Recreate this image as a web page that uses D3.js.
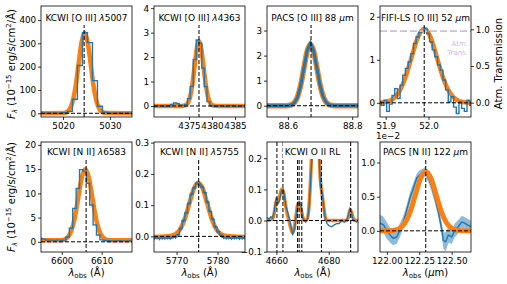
<!DOCTYPE html>
<html>
<head>
<meta charset="utf-8">
<script src="https://cdn.jsdelivr.net/npm/d3@7"></script>
<style>
  body { margin: 0; background: #fff; }
  svg text { font-family: "DejaVu Sans", sans-serif; fill: #000; }
</style>
</head>
<body>
<svg id="chart" width="507" height="284"></svg>
<script>
// ---- KCWI [O III] 5007 ----
const oiii5007Wave = [5015.07, 5016.13, 5017.2, 5018.27, 5019.33, 5020.4, 5021.47, 5022.53, 5023.6, 5024.67, 5025.73, 5026.8, 5027.87, 5028.93, 5030.0, 5031.07, 5032.13, 5033.2, 5034.27, 5035.33];
const oiii5007Flux = [0, 0, 0, 0, 0, 2, 8, 60, 205, 345, 303, 140, 30, 5, 0, 0, 0, 0, 0, 0];
const oiii5007FitWave = [5015.3, 5020.05, 5020.7, 5021.35, 5022.0, 5022.65, 5023.3, 5023.95, 5024.6, 5025.25, 5025.9, 5026.55, 5027.2, 5027.85, 5028.5, 5029.15, 5034.7];
const oiii5007Fit = [0, 0.7, 3.8, 15, 46.7, 112, 209, 304.5, 345, 304.5, 209, 112, 46.7, 15, 3.8, 0.7, 0];

// ---- KCWI [O III] 4363 ----
const oiii4363Wave = [4367.04, 4367.65, 4368.26, 4368.88, 4369.49, 4370.1, 4370.71, 4371.32, 4371.94, 4372.55, 4373.16, 4373.77, 4374.38, 4374.96, 4375.58, 4376.25, 4376.87, 4377.49, 4378.06, 4378.6, 4379.22, 4379.84, 4380.46, 4381.08, 4381.7, 4382.32, 4382.94, 4383.56, 4384.18, 4384.8, 4385.42, 4386.04, 4386.66, 4387.28, 4387.9];
const oiii4363Flux = [0, -0.01, 0, 0.01, 0, -0.01, 0, 0.06, 0.12, 0.1, 0.03, 0.02, 0.05, 0.3, 0.8, 1.9, 2.7, 2.57, 1.55, 0.8, 0.18, 0.02, 0, -0.01, 0.01, 0, -0.01, 0, 0.01, 0, -0.01, 0, 0.01, 0, 0];
const oiii4363FitWave = [4367.39, 4373.26, 4373.75, 4374.24, 4374.73, 4375.22, 4375.71, 4376.2, 4376.69, 4377.18, 4377.67, 4378.16, 4378.65, 4379.14, 4379.63, 4380.12, 4380.61, 4381.1, 4387.17];
const oiii4363Fit = [0, 0.002, 0.006, 0.03, 0.116, 0.36, 0.86, 1.61, 2.34, 2.65, 2.34, 1.61, 0.86, 0.36, 0.116, 0.03, 0.006, 0.002, 0];

// ---- PACS [O III] 88 um ----
const oiii88Wave = [88.535, 88.59, 88.60, 88.61, 88.62, 88.63, 88.64, 88.65, 88.66, 88.67, 88.68, 88.69, 88.70, 88.71, 88.72, 88.73, 88.74, 88.75, 88.818];
const oiii88Flux = [0, 0, 0.006, 0.03, 0.11, 0.34, 0.81, 1.52, 2.2, 2.5, 2.2, 1.52, 0.81, 0.34, 0.11, 0.03, 0.006, 0, 0];
const oiii88Fit = [0, 0, 0.008, 0.035, 0.12, 0.36, 0.83, 1.52, 2.17, 2.45, 2.17, 1.52, 0.83, 0.36, 0.12, 0.035, 0.008, 0, 0];

// ---- FIFI-LS [O III] 52 um ----
const oiii52Wave = [51.8866, 51.8929, 51.8991, 51.9054, 51.9116, 51.9179, 51.9242, 51.9304, 51.9367, 51.9429, 51.9492, 51.9555, 51.9617, 51.9680, 51.9742, 51.9805, 51.9868, 51.9930, 51.9993, 52.0055, 52.0118, 52.0181, 52.0243, 52.0306, 52.0368, 52.0431, 52.0494, 52.0556, 52.0619, 52.0681, 52.0744, 52.0807, 52.0869, 52.0932, 52.0994];
const oiii52Flux = [0.02, -0.06, 0.06, -0.2, -0.03, 0.17, 0.33, 0.1, 0.41, 0.64, 0.8, 0.95, 1.14, 1.38, 1.53, 1.63, 1.67, 1.73, 1.61, 1.42, 1.23, 1.07, 0.88, 0.76, 0.53, 0.3, 0.02, 0.14, -0.1, -0.25, 0.02, -0.13, -0.2, 0.06, -0.06];
const oiii52FitWave = [51.8866, 51.90, 51.915, 51.93, 51.945, 51.96, 51.975, 51.99, 52.005, 52.02, 52.035, 52.05, 52.065, 52.08, 52.0994];
const oiii52Fit = [0.002, 0.019, 0.075, 0.233, 0.558, 1.043, 1.518, 1.72, 1.518, 1.043, 0.558, 0.233, 0.075, 0.019, 0.002];
const atmWave = [51.8866, 52.0994];
const atmTrans = [0.975, 0.975];

// ---- KCWI [N II] 6583 ----
const nii6583Wave = [6594.68, 6595.53, 6596.38, 6597.23, 6598.08, 6598.93, 6599.78, 6600.63, 6601.48, 6602.33, 6603.18, 6604.03, 6604.88, 6605.73, 6606.58, 6607.43, 6608.28, 6609.13, 6609.98, 6610.83, 6611.68, 6612.53, 6613.38, 6614.23, 6615.08, 6615.93, 6616.78, 6617.63, 6618.48];
const nii6583Flux = [0.7, 0.55, 0.35, 0.35, 0.3, 0.35, 0.3, 0.35, 1.0, 2.8, 6.9, 11.0, 14.9, 14.6, 12.1, 7.6, 3.5, 1.4, 0.4, 0.3, 0.25, 0.2, 0.2, 0.25, 0.2, 0.2, 0.2, 0.2, 0.2];
const nii6583FitWave = [6594.8, 6599.775, 6600.65, 6601.525, 6602.4, 6603.275, 6604.15, 6605.025, 6605.9, 6606.775, 6607.65, 6608.525, 6609.4, 6610.275, 6611.15, 6612.025, 6617.6];
const nii6583Fit = [0.3, 0.32, 0.45, 0.95, 2.3, 5.0, 9.2, 13.3, 15.0, 13.3, 9.2, 5.0, 2.3, 0.95, 0.45, 0.32, 0.3];

// ---- KCWI [N II] 5755 ----
const nii5755Wave = [5764.55, 5765.2, 5765.85, 5766.5, 5767.15, 5767.8, 5768.45, 5769.1, 5769.75, 5770.4, 5771.05, 5771.7, 5772.35, 5773.0, 5773.65, 5774.3, 5774.95, 5775.6, 5776.25, 5776.9, 5777.55, 5778.2, 5778.85, 5779.5, 5780.15, 5780.8, 5781.45, 5782.1, 5782.75, 5783.4, 5784.05, 5784.7, 5785.35, 5786.0, 5786.65];
const nii5755Flux = [-0.006, -0.004, -0.007, -0.005, -0.006, -0.004, -0.006, -0.003, -0.002, 0.005, 0.025, 0.05, 0.075, 0.105, 0.135, 0.155, 0.17, 0.168, 0.158, 0.14, 0.11, 0.08, 0.055, 0.03, 0.015, 0.004, -0.003, -0.005, -0.004, -0.006, -0.005, -0.004, -0.006, -0.005, -0.004];
const nii5755FitWave = [5764.5, 5768.7, 5769.8, 5770.9, 5772.0, 5773.1, 5774.2, 5775.3, 5776.4, 5777.5, 5778.6, 5779.7, 5780.8, 5781.9, 5786.7];
const nii5755Fit = [-0.002, 0.002, 0.0075, 0.023, 0.056, 0.104, 0.152, 0.172, 0.152, 0.104, 0.056, 0.023, 0.0075, 0.002, -0.002];

// ---- KCWI O II recombination lines ----
const oiiRlWave = [4656.5, 4657.2, 4657.9, 4658.5, 4659.0, 4659.5, 4660.0, 4660.6, 4661.2, 4661.9, 4662.5, 4663.1, 4663.7, 4664.3, 4665.0, 4665.6, 4666.2, 4666.9, 4667.5, 4668.1, 4668.7, 4669.4, 4670.0, 4670.6, 4671.2, 4671.8, 4672.5, 4673.1, 4673.7, 4674.3, 4675.0, 4675.6, 4676.2, 4676.5, 4676.9, 4677.5, 4678.1, 4678.7, 4679.4, 4680.0, 4681.0, 4682.0, 4683.0, 4684.0, 4685.0, 4686.0, 4687.0, 4687.5, 4688.1, 4688.7, 4689.3, 4690.0, 4690.6, 4691.2];
const oiiRlFlux = [0.01, 0.005, 0.012, 0.008, 0.02, 0.05, 0.075, 0.054, 0.065, 0.095, 0.1, 0.08, 0.043, 0.027, 0.005, -0.02, -0.043, -0.03, 0.01, 0.048, 0.06, 0.05, 0.01, 0.0, -0.005, 0.0, 0.043, 0.13, 0.22, 0.6, 0.9, 0.7, 0.3, 0.17, 0.11, 0.086, 0.045, 0.005, -0.01, -0.016, -0.02, -0.015, -0.01, -0.01, 0.0, -0.005, 0.005, 0.015, 0.038, 0.027, 0.0, 0.0, -0.005, 0.0];
const oiiRlFitWave = [4656.5, 4658.5, 4659.3, 4660.0, 4660.6, 4661.3, 4662.0, 4662.6, 4663.3, 4664.0, 4664.8, 4665.5, 4666.2, 4666.8, 4667.5, 4668.1, 4668.7, 4669.4, 4670.1, 4670.8, 4671.8, 4672.5, 4673.1, 4673.7, 4674.3, 4675.0, 4675.6, 4676.2, 4676.8, 4677.4, 4678.0, 4678.7, 4679.5, 4687.0, 4687.6, 4688.2, 4688.8, 4689.5, 4690.2, 4691.2];
const oiiRlFit = [0.0, 0.005, 0.03, 0.065, 0.06, 0.08, 0.1, 0.095, 0.06, 0.025, 0.0, -0.025, -0.04, -0.025, 0.015, 0.05, 0.058, 0.04, 0.01, 0.0, 0.005, 0.05, 0.14, 0.3, 0.7, 0.95, 0.7, 0.3, 0.13, 0.09, 0.05, 0.01, 0.0, 0.0, 0.015, 0.035, 0.025, 0.005, 0.0, 0.0];
const oiiRlLines = [4660.2, 4662.5, 4668.1, 4668.7, 4669.7, 4677.2, 4688.4];

// ---- PACS [N II] 122 um ----
const nii122Wave = [121.947, 121.972, 121.998, 122.024, 122.049, 122.076, 122.101, 122.127, 122.153, 122.178, 122.204, 122.230, 122.255, 122.281, 122.294, 122.319, 122.346, 122.371, 122.397, 122.423, 122.435, 122.454, 122.474, 122.500, 122.525, 122.551, 122.577, 122.603, 122.628, 122.647];
const nii122Flux = [0.11, 0.09, 0.01, -0.06, -0.11, -0.09, 0.01, 0.13, 0.3, 0.48, 0.62, 0.77, 0.82, 0.84, 0.87, 0.79, 0.65, 0.48, 0.28, 0.03, -0.14, -0.16, -0.06, -0.09, 0.01, 0.06, 0.13, 0.11, 0.08, 0.06];
const nii122Err = [0.12, 0.12, 0.12, 0.11, 0.1, 0.1, 0.1, 0.09, 0.08, 0.08, 0.08, 0.07, 0.07, 0.07, 0.07, 0.07, 0.08, 0.08, 0.08, 0.09, 0.12, 0.14, 0.12, 0.1, 0.1, 0.1, 0.09, 0.09, 0.09, 0.09];
const nii122FitWave = [121.947, 122.02, 122.06, 122.10, 122.14, 122.18, 122.22, 122.26, 122.30, 122.34, 122.38, 122.42, 122.46, 122.50, 122.54, 122.58, 122.649];
const nii122Fit = [0, 0.002, 0.0096, 0.038, 0.118, 0.282, 0.528, 0.768, 0.87, 0.768, 0.528, 0.282, 0.118, 0.038, 0.0096, 0.002, 0];

// line centres (vertical dashed lines)
const lineCenters = [5024.5, 4377.17, 88.672, 51.99, 6606.1, 5775.4, null, 122.30];

// titles, ticks
const titles = [
  [["KCWI [O III] ", false], ["λ", true], ["5007", false]],
  [["KCWI [O III] ", false], ["λ", true], ["4363", false]],
  [["PACS [O III] 88 ", false], ["μ", true], ["m", false]],
  [["FIFI-LS [O III] 52 ", false], ["μ", true], ["m", false]],
  [["KCWI [N II] ", false], ["λ", true], ["6583", false]],
  [["KCWI [N II] ", false], ["λ", true], ["5755", false]],
  [["KCWI O II RL", false]],
  [["PACS [N II] 122 ", false], ["μ", true], ["m", false]]
];
const xTicks = [[5020, 5030], [4375, 4380, 4385], [88.6, 88.8], [51.9, 52.0], [6600, 6610], [5770, 5780], [4660, 4680], [122.0, 122.25, 122.5]];
const xFormats = ["d", "d", ".1f", ".1f", "d", "d", "d", ".2f"];
const yTicks = [[0, 100, 200, 300, 400], [0, 1, 2, 3, 4], [0, 1, 2, 3], [0, 1, 2], [0, 5, 10, 15, 20], [0, 0.1, 0.2, 0.3], [-0.1, 0, 0.1, 0.2], [0, 0.5, 1.0]];
const yFormats = ["d", "d", "d", "d", "d", ".1f", ".1f", ".1f"];
const atmTicks = [0, 0.5, 1.0];

const BLUE = "#1f77b4";
const ORANGE = "#ff7f0e";
const ATM = "#cfbde2";
const TICK_FONT = 8.8;
const LABEL_FONT = 10;

const svg = d3.select("#chart");
svg.append("rect").attr("width", 507).attr("height", 284).attr("fill", "#fff");

// layout
const colX = [41, 154, 267, 380];
const rowY = [6, 142];
const panelW = 91;
const panelH = [111, 110];

const zip = (xs, ys) => xs.map((d, i) => [d, ys[i]]);

const panels = [
  { col: 0, row: 0, xDomain: [5015.3, 5034.7], yDomain: [-16, 460],
    data: zip(oiii5007Wave, oiii5007Flux), fit: zip(oiii5007FitWave, oiii5007Fit), step: true },
  { col: 1, row: 0, xDomain: [4367.39, 4387.17], yDomain: [-0.45, 4.09],
    data: zip(oiii4363Wave, oiii4363Flux), fit: zip(oiii4363FitWave, oiii4363Fit), step: true },
  { col: 2, row: 0, xDomain: [88.535, 88.818], yDomain: [-0.45, 3.98],
    data: zip(oiii88Wave, oiii88Flux), fit: zip(oiii88Wave, oiii88Fit), dataWidth: 3, fitWidth: 5.5 },
  { col: 3, row: 0, xDomain: [51.8866, 52.0994], yDomain: [-0.33, 2.25],
    data: zip(oiii52Wave, oiii52Flux), fit: zip(oiii52FitWave, oiii52Fit), step: true, atm: true },
  { col: 0, row: 1, xDomain: [6594.8, 6617.6], yDomain: [-2.1, 20.6],
    data: zip(nii6583Wave, nii6583Flux), fit: zip(nii6583FitWave, nii6583Fit), step: true, xLabel: "Å" },
  { col: 1, row: 1, xDomain: [5764.5, 5786.7], yDomain: [-0.05, 0.302],
    data: zip(nii5755Wave, nii5755Flux), fit: zip(nii5755FitWave, nii5755Fit), step: true, errBar: 0.006, xLabel: "Å" },
  { col: 2, row: 1, xDomain: [4656.4, 4691.2], yDomain: [-0.101, 0.252],
    data: zip(oiiRlWave, oiiRlFlux), fit: zip(oiiRlFitWave, oiiRlFit), fitWidth: 3.5, lines: oiiRlLines, xLabel: "Å" },
  { col: 3, row: 1, xDomain: [121.947, 122.649], yDomain: [-0.31, 1.30],
    data: zip(nii122Wave, nii122Flux), fit: zip(nii122FitWave, nii122Fit), band: nii122Err, fitOnTop: true, fitWidth: 5, xLabel: "μm" }
];

function styleAxis(sel) {
  sel.select(".domain").remove();
  sel.selectAll(".tick line").attr("stroke", "#000").attr("stroke-width", 0.8);
  sel.selectAll(".tick text").attr("font-size", TICK_FONT).attr("font-family", "DejaVu Sans");
}

panels.forEach((p, i) => {
  const h = panelH[p.row];
  const g = svg.append("g").attr("transform", `translate(${colX[p.col]},${rowY[p.row]})`);
  const x = d3.scaleLinear().domain(p.xDomain).range([0, panelW]);
  const y = d3.scaleLinear().domain(p.yDomain).range([h, 0]);

  g.append("clipPath").attr("id", "clip" + i)
    .append("rect").attr("width", panelW).attr("height", h);
  const plot = g.append("g").attr("clip-path", `url(#clip${i})`);

  const dataLine = d3.line().x(d => x(d[0])).y(d => y(d[1]))
    .curve(p.step ? d3.curveStep : d3.curveLinear);
  const fitLine = d3.line().x(d => x(d[0])).y(d => y(d[1])).curve(d3.curveMonotoneX);

  // error band (PACS 122)
  if (p.band) {
    const area = d3.area().x(d => x(d[0]))
      .y0((d, j) => y(d[1] - p.band[j])).y1((d, j) => y(d[1] + p.band[j]));
    plot.append("path").datum(p.data).attr("d", area)
      .attr("fill", BLUE).attr("fill-opacity", 0.5);
  }

  const drawFit = () => plot.append("path").datum(p.fit).attr("d", fitLine)
    .attr("fill", "none").attr("stroke", ORANGE).attr("stroke-width", p.fitWidth || 4.5)
    .attr("stroke-linejoin", "round");
  const drawData = () => plot.append("path").datum(p.data).attr("d", dataLine)
    .attr("fill", "none").attr("stroke", BLUE).attr("stroke-width", p.dataWidth || 1.4);

  if (p.fitOnTop) { drawData(); drawFit(); } else { drawFit(); drawData(); }

  // small error bars
  if (p.errBar) {
    plot.selectAll(".err").data(p.data).enter().append("line")
      .attr("x1", d => x(d[0])).attr("x2", d => x(d[0]))
      .attr("y1", d => y(d[1] - p.errBar)).attr("y2", d => y(d[1] + p.errBar))
      .attr("stroke", BLUE).attr("stroke-width", 1);
  }

  // atmospheric transmission (right axis)
  let yR = null;
  if (p.atm) {
    yR = d3.scaleLinear().domain([-0.195, 1.317]).range([h, 0]);
    plot.append("path").datum(zip(atmWave, atmTrans))
      .attr("d", d3.line().x(d => x(d[0])).y(d => yR(d[1])))
      .attr("stroke", ATM).attr("stroke-width", 1.8).attr("stroke-dasharray", "7,3").attr("fill", "none");
    g.append("text").attr("x", panelW - 3).attr("y", 40).attr("text-anchor", "end")
      .attr("font-size", 7).style("fill", ATM).text("Atm.");
    g.append("text").attr("x", panelW - 3).attr("y", 49).attr("text-anchor", "end")
      .attr("font-size", 7).style("fill", ATM).text("Trans.");
  }

  // dashed reference lines
  const dash = "4,2";
  plot.append("line").attr("x1", 0).attr("x2", panelW).attr("y1", y(0)).attr("y2", y(0))
    .attr("stroke", "#000").attr("stroke-width", 1).attr("stroke-dasharray", dash);
  const vlines = p.lines || (lineCenters[i] != null ? [lineCenters[i]] : []);
  vlines.forEach(c => {
    plot.append("line").attr("x1", x(c)).attr("x2", x(c)).attr("y1", 0).attr("y2", h)
      .attr("stroke", "#000").attr("stroke-width", 1).attr("stroke-dasharray", dash);
  });

  // title on a white box
  const t = g.append("text").attr("x", panelW / 2).attr("y", p.row === 0 ? 15 : 13)
    .attr("text-anchor", "middle").attr("font-size", 9);
  titles[i].forEach(([s, it]) => {
    t.append("tspan").attr("font-style", it ? "italic" : "normal").text(s);
  });
  const bb = t.node().getBBox();
  g.insert("rect", () => t.node())
    .attr("x", bb.x - 2).attr("y", 0).attr("width", bb.width + 4).attr("height", bb.y + bb.height + 2)
    .attr("fill", "#fff");

  // frame
  g.append("rect").attr("width", panelW).attr("height", h)
    .attr("fill", "none").attr("stroke", "#000").attr("stroke-width", 0.8);

  // axes
  g.append("g").attr("transform", `translate(0,${h})`)
    .call(d3.axisBottom(x).tickValues(xTicks[i]).tickFormat(d3.format(xFormats[i])).tickSize(3).tickPadding(2.5))
    .call(styleAxis);
  g.append("g")
    .call(d3.axisLeft(y).tickValues(yTicks[i]).tickFormat(d3.format(yFormats[i])).tickSize(3).tickPadding(1.8))
    .call(styleAxis);
  if (yR) {
    g.append("g").attr("transform", `translate(${panelW},0)`)
      .call(d3.axisRight(yR).tickValues(atmTicks).tickFormat(d3.format(".1f")).tickSize(3).tickPadding(1.8))
      .call(styleAxis);
    g.append("text").attr("x", -4).attr("y", h + 22).attr("font-size", TICK_FONT).text("1e−2");
    g.append("text").attr("transform", `translate(${panelW + 31},${h / 2 + 2}) rotate(-90)`)
      .attr("text-anchor", "middle").attr("font-size", LABEL_FONT).text("Atm. Transmission");
  }

  // x label
  if (p.xLabel) {
    const xl = g.append("text").attr("x", panelW / 2).attr("y", h + 24)
      .attr("text-anchor", "middle").attr("font-size", LABEL_FONT);
    xl.append("tspan").attr("font-style", "italic").text("λ");
    xl.append("tspan").attr("font-size", 7).attr("dy", 2).text("obs");
    xl.append("tspan").attr("dy", -2).text(" (");
    if (p.xLabel === "μm") {
      xl.append("tspan").attr("font-style", "italic").text("μ");
      xl.append("tspan").text("m)");
    } else {
      xl.append("tspan").text("Å)");
    }
  }
});

// y labels for both rows
function yLabel(cx, cy) {
  const t = svg.append("text").attr("transform", `translate(${cx},${cy}) rotate(-90)`)
    .attr("text-anchor", "middle").attr("font-size", LABEL_FONT);
  t.append("tspan").attr("font-style", "italic").text("F");
  t.append("tspan").attr("font-style", "italic").attr("font-size", 7).attr("dy", 2).text("λ");
  t.append("tspan").attr("dy", -2).text(" (10");
  t.append("tspan").attr("font-size", 7).attr("dy", -4).text("−15");
  t.append("tspan").attr("dy", 4).text(" erg/s/cm");
  t.append("tspan").attr("font-size", 7).attr("dy", -4).text("2");
  t.append("tspan").attr("dy", 4).text("/Å)");
}
yLabel(15, 64);
yLabel(15, 197);
</script>
</body>
</html>
